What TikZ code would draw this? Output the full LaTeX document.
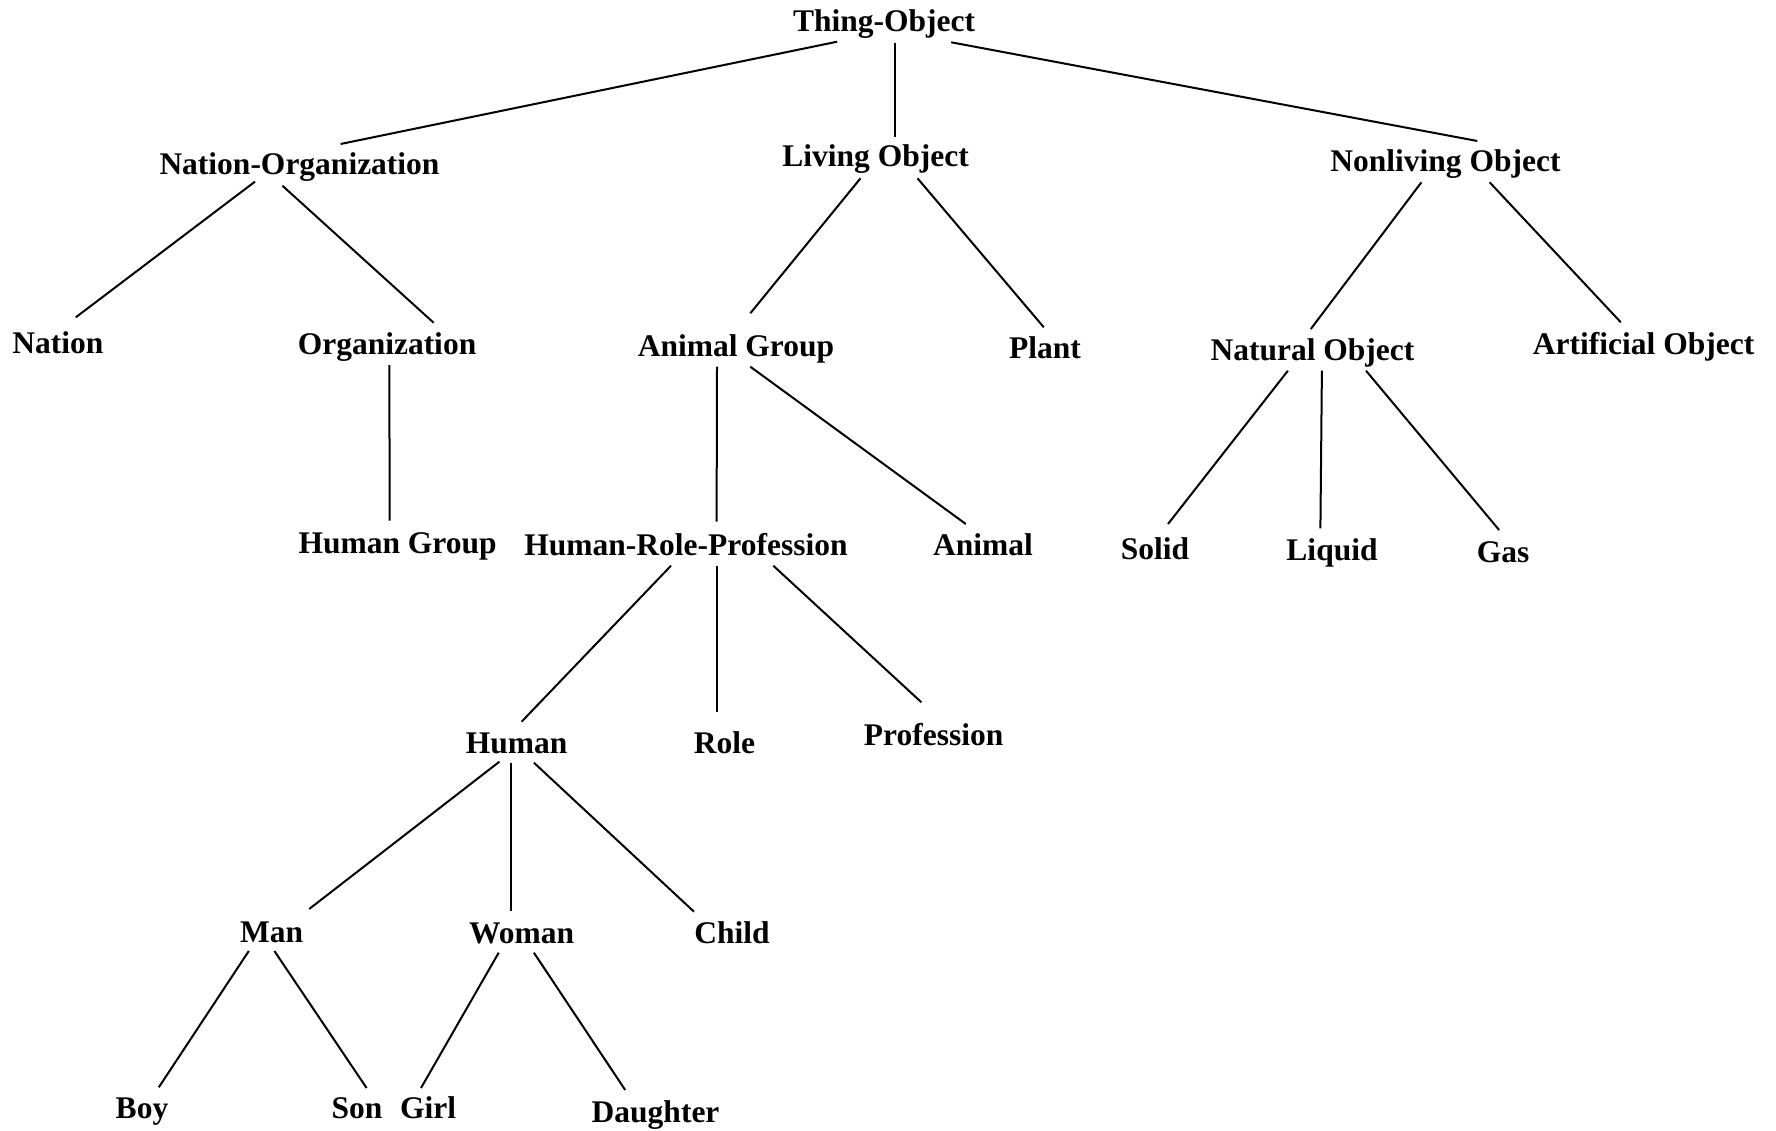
\documentclass[tikz,border=0pt]{standalone}
\usepackage{fontspec}
\setmainfont{Liberation Serif}
\usetikzlibrary{calc}

% connector between two labels, each end given as an offset from the label's baseline point
\newcommand\conn[4]{\draw[branch] ($(#1.base)+(#2)$) -- ($(#3.base)+(#4)$);}

\begin{document}
\begin{tikzpicture}[x=1pt,y=-1pt,
  term/.style={anchor=base,inner sep=0pt,font=\fontsize{31.5}{32}\selectfont\bfseries},
  branch/.style={line width=2pt,black}]
\useasboundingbox[fill=white] (0,0) rectangle (1776,1131);

% level 0
\node[term] (thing) at (884,32) {Thing-Object};
% level 1
\node[term] (natorg) at (299.5,175) {Nation-Organization};
\node[term] (living) at (875.6,167) {Living Object};
\node[term] (nonliving) at (1445.5,172) {Nonliving Object};
% level 2
\node[term] (nation) at (58,353) {Nation};
\node[term] (org) at (387,354) {Organization};
\node[term] (animalgroup) at (736,356) {Animal Group};
\node[term] (plant) at (1045,358) {Plant};
\node[term] (natural) at (1312.5,360) {Natural Object};
\node[term] (artificial) at (1643.6,354) {Artificial Object};
% level 3
\node[term] (humangroup) at (397.6,553) {Human Group};
\node[term] (hrp) at (686,555) {Human-Role-Profession};
\node[term] (animal) at (983,555) {Animal};
\node[term] (solid) at (1155,559) {Solid};
\node[term] (liquid) at (1332,560) {Liquid};
\node[term] (gas) at (1503,562) {Gas};
% level 4
\node[term] (human) at (516.6,753) {Human};
\node[term] (role) at (724.5,753) {Role};
\node[term] (profession) at (933.6,745) {Profession};
% level 5
\node[term] (man) at (271.7,942) {Man};
\node[term] (woman) at (521.6,943) {Woman};
\node[term] (child) at (732,943) {Child};
% level 6
\node[term] (boy) at (142,1118) {Boy};
\node[term] (son) at (357,1118) {Son};
\node[term] (girl) at (428,1118) {Girl};
\node[term] (daughter) at (655.6,1122) {Daughter};

% branches
\conn{thing}{-46.8,9.7}{natorg}{41.1,-31}
\conn{thing}{11,10.7}{living}{19.4,-30.3}
\conn{thing}{67.2,10.3}{nonliving}{31.8,-31}

\conn{natorg}{-44.6,6.7}{nation}{17.8,-35.7}
\conn{natorg}{-17.1,10.7}{org}{46.6,-31.3}
\conn{org}{2.4,11}{humangroup}{-8,-32.3}

\conn{living}{-15.1,11.3}{animalgroup}{14.3,-42.7}
\conn{living}{41.9,11.3}{plant}{-1.2,-30.7}

\conn{nonliving}{-24.1,10.3}{natural}{-1.7,-31}
\conn{nonliving}{44.1,10.3}{artificial}{-22.8,-31.7}

\conn{animalgroup}{-19,10.7}{hrp}{30.6,-33.3}
\conn{animalgroup}{14.3,10.7}{animal}{-17.2,-31}

\conn{natural}{-24.6,10.7}{solid}{13,-35}
\conn{natural}{9.4,10.7}{liquid}{-11.6,-31.7}
\conn{natural}{53.5,10.7}{gas}{-3.9,-32}

\conn{hrp}{-15,10.7}{human}{5,-31.3}
\conn{hrp}{30.6,10.7}{role}{-7.9,-41.3}
\conn{hrp}{87.3,10.7}{profession}{-12.2,-42.7}

\conn{human}{-17.2,8.7}{man}{37.5,-33}
\conn{human}{-5.7,9.7}{woman}{-10.7,-32.3}
\conn{human}{17.3,9.7}{child}{-38,-31.3}

\conn{man}{-22.9,9}{boy}{16.8,-30.7}
\conn{man}{2.7,9}{son}{9.6,-30}
\conn{woman}{-22.9,9.7}{girl}{-7,-30}
\conn{woman}{12.3,9.7}{daughter}{-30.4,-32}
\end{tikzpicture}
\end{document}
